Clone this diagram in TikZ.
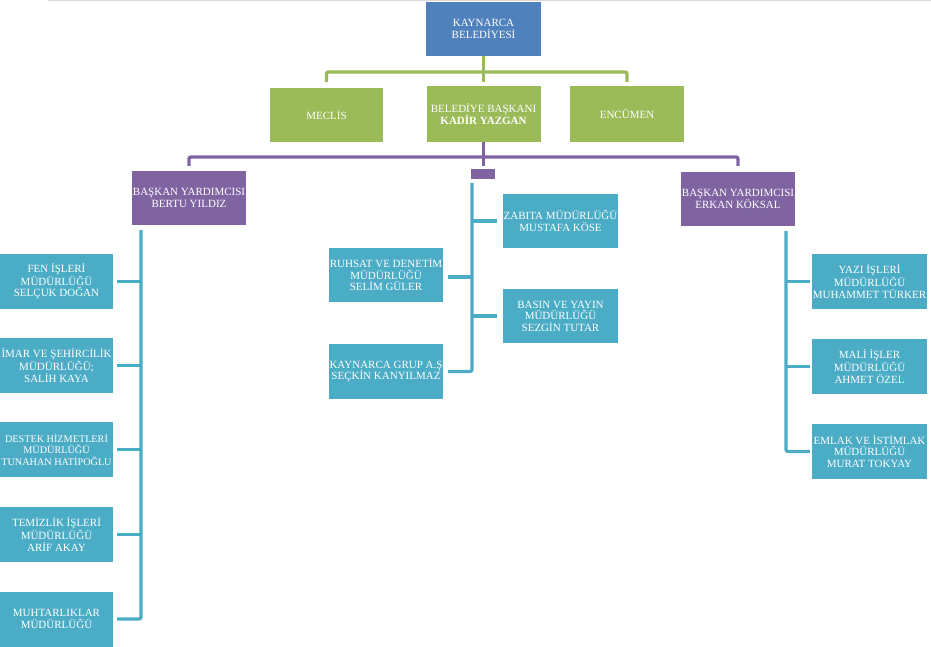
\documentclass[tikz,border=0pt]{standalone}
\usepackage{fontspec}
\setmainfont{Liberation Serif}
\definecolor{cblue}{HTML}{4F81BD}
\definecolor{cgreen}{HTML}{9BBB59}
\definecolor{cpurple}{HTML}{8064A2}
\definecolor{cteal}{HTML}{4BACC6}
\begin{document}
\begin{tikzpicture}[x=1pt,y=-1pt,
  box/.style={rectangle, inner sep=0pt, text=white, align=center,
    font=\fontsize{11}{11.5}\selectfont},
  bluebox/.style={box, fill=cblue, minimum width=115, minimum height=54},
  greenbox/.style={box, fill=cgreen, minimum width=114, minimum height=55},
  purplebox/.style={box, fill=cpurple, minimum width=114, minimum height=54},
  tealbox/.style={box, fill=cteal, minimum width=115, minimum height=55},
  gline/.style={draw=cgreen, line width=3.4pt, rounded corners=2pt},
  pline/.style={draw=cpurple, line width=3.4pt, rounded corners=2pt},
  tline/.style={draw=cteal, line width=3.2pt, rounded corners=2pt}]
\useasboundingbox (0,0) rectangle (931,647);
\fill[white] (0,0) rectangle (931,647);
\coordinate (tl1) at (48,0.8);
\coordinate (tl2) at (931,0.8);
\draw[black!15, line width=1.4pt] (tl1) -- (tl2);

% top
\node[bluebox] (kb) at (483.5,29) {KAYNARCA\\BELEDİYESİ};
\node[greenbox, minimum width=113, minimum height=54] (meclis) at (326.5,115) {MECLİS};
\node[greenbox, minimum height=56] (baskan) at (483.5,114) {BELEDİYE BAŞKANI\\\textbf{KADİR YAZGAN}};
\node[greenbox, minimum height=56] (encumen) at (627,114) {ENCÜMEN};

% green connectors
\coordinate (gm) at (483.5,82);
\coordinate (gl) at (326.5,82);
\coordinate (gr) at (627,82);
\coordinate (gh) at (483.5,72);
\draw[gline] (kb.south) -- (gm);
\draw[gline] (gl) |- (gh) -| (gr);

% vice mayors
\node[purplebox] (by1) at (189,198) {BAŞKAN YARDIMCISI\\BERTU YILDIZ};
\node[purplebox] (by2) at (738,199) {BAŞKAN YARDIMCISI\\ERKAN KÖKSAL};
\node[rectangle, fill=cpurple, minimum width=24, minimum height=10, inner sep=0pt] (sp) at (483,174) {};

% purple connectors
\coordinate (pm) at (483.5,166);
\coordinate (pl) at (189,166);
\coordinate (pr) at (738,166);
\coordinate (ph) at (483.5,157);
\draw[pline] (baskan.south) -- (pm);
\draw[pline] (pl) |- (ph) -| (pr);

% left column
\node[tealbox, minimum width=113] (fen) at (56.5,281.5) {FEN İŞLERİ\\MÜDÜRLÜĞÜ\\SELÇUK DOĞAN};
\node[tealbox, minimum width=113] (imar) at (56.5,365.5) {İMAR VE ŞEHİRCİLİK\\MÜDÜRLÜĞÜ;\\SALİH KAYA};
\node[tealbox, minimum width=113, font=\fontsize{10.2}{11.5}\selectfont] (destek) at (56.5,449.5) {DESTEK HİZMETLERİ\\MÜDÜRLÜĞÜ\\TUNAHAN HATİPOĞLU};
\node[tealbox, minimum width=113] (temiz) at (56.5,534.5) {TEMİZLİK İŞLERİ\\MÜDÜRLÜĞÜ\\ARİF AKAY};
\node[tealbox, minimum width=113] (muhtar) at (56.5,619) {MUHTARLIKLAR\\MÜDÜRLÜĞÜ};

\coordinate (lt) at (141,230);
\draw[tline] (lt) |- ([xshift=4pt]muhtar.east);
\draw[tline] (lt |- fen.east) -- ([xshift=4pt]fen.east);
\draw[tline] (lt |- imar.east) -- ([xshift=4pt]imar.east);
\draw[tline] (lt |- destek.east) -- ([xshift=4pt]destek.east);
\draw[tline] (lt |- temiz.east) -- ([xshift=4pt]temiz.east);

% middle column
\node[tealbox, minimum height=54] (zabita) at (560.5,221) {ZABITA MÜDÜRLÜĞÜ\\MUSTAFA KÖSE};
\node[tealbox, minimum width=114, minimum height=54] (ruhsat) at (386,275) {RUHSAT VE DENETİM\\MÜDÜRLÜĞÜ\\SELİM GÜLER};
\node[tealbox, minimum height=54] (basin) at (560.5,316) {BASIN VE YAYIN\\MÜDÜRLÜĞÜ\\SEZGİN TUTAR};
\node[tealbox, minimum width=114] (kgrup) at (386,371.5) {KAYNARCA GRUP A.Ş\\SEÇKİN KANYILMAZ};

\coordinate (mt) at (472,183);
\draw[tline] (mt) |- ([xshift=5pt]kgrup.east);
\draw[tline] (mt |- zabita.west) -- ([xshift=-6pt]zabita.west);
\draw[tline] (mt |- basin.west) -- ([xshift=-6pt]basin.west);
\draw[tline] ([yshift=-2pt]mt |- ruhsat.east) -- ([xshift=5pt,yshift=-2pt]ruhsat.east);

% right column
\node[tealbox] (yazi) at (869.5,281.5) {YAZI İŞLERİ\\MÜDÜRLÜĞÜ\\MUHAMMET TÜRKER};
\node[tealbox] (mali) at (869.5,366.5) {MALİ İŞLER\\MÜDÜRLÜĞÜ\\AHMET ÖZEL};
\node[tealbox] (emlak) at (869.5,451.5) {EMLAK VE İSTİMLAK\\MÜDÜRLÜĞÜ\\MURAT TOKYAY};

\coordinate (rt) at (786,231);
\draw[tline] (rt) |- ([xshift=-2pt]emlak.west);
\draw[tline] (rt |- yazi.west) -- ([xshift=-2pt]yazi.west);
\draw[tline] (rt |- mali.west) -- ([xshift=-2pt]mali.west);
\end{tikzpicture}
\end{document}
